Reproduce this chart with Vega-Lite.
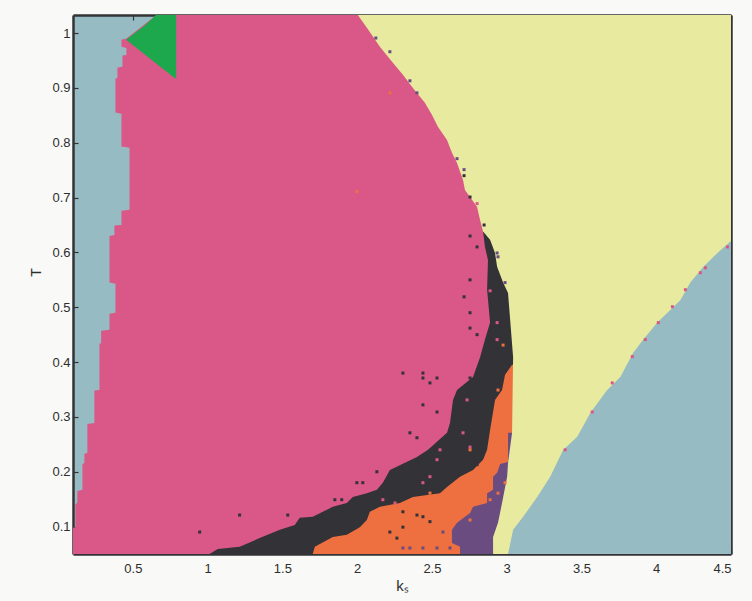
{
  "$schema": "https://vega.github.io/schema/vega-lite/v6.json",
  "width": 658,
  "height": 539,
  "autosize": {"type": "none"},
  "padding": {"left": 73, "top": 15, "right": 21, "bottom": 47},
  "background": "#f9f9f7",
  "config": {
    "view": {"fill": "#97bbc3", "stroke": null},
    "axis": {
      "zindex": 1,
      "domain": true,
      "domainColor": "#333336",
      "domainWidth": 2.5,
      "grid": false,
      "tickColor": "#333336",
      "tickWidth": 1.2,
      "tickSize": -5,
      "labelFont": "Liberation Sans",
      "labelFontSize": 13,
      "labelColor": "#2d2d2d",
      "titleFont": "Liberation Sans",
      "titleFontSize": 14,
      "titleFontWeight": "normal",
      "titleColor": "#2d2d2d"
    }
  },
  "datasets": {
    "pink": [
      {"T": 1.033, "k": 0.658, "k2": 4.5}, {"T": 0.99, "k": 0.457, "k2": 4.5},
      {"T": 0.988, "k": 0.424, "k2": 4.5}, {"T": 0.975, "k": 0.424, "k2": 4.5},
      {"T": 0.973, "k": 0.457, "k2": 4.5}, {"T": 0.96, "k": 0.457, "k2": 4.5},
      {"T": 0.959, "k": 0.431, "k2": 4.5}, {"T": 0.939, "k": 0.431, "k2": 4.5},
      {"T": 0.937, "k": 0.397, "k2": 4.5}, {"T": 0.918, "k": 0.397, "k2": 4.5},
      {"T": 0.917, "k": 0.384, "k2": 4.5}, {"T": 0.855, "k": 0.384, "k2": 4.5},
      {"T": 0.853, "k": 0.424, "k2": 4.5}, {"T": 0.793, "k": 0.424, "k2": 4.5},
      {"T": 0.791, "k": 0.478, "k2": 4.5}, {"T": 0.678, "k": 0.478, "k2": 4.5},
      {"T": 0.676, "k": 0.424, "k2": 4.5}, {"T": 0.65, "k": 0.424, "k2": 4.5},
      {"T": 0.649, "k": 0.377, "k2": 4.5}, {"T": 0.632, "k": 0.377, "k2": 4.5},
      {"T": 0.63, "k": 0.344, "k2": 4.5}, {"T": 0.545, "k": 0.344, "k2": 4.5},
      {"T": 0.543, "k": 0.384, "k2": 4.5}, {"T": 0.49, "k": 0.384, "k2": 4.5},
      {"T": 0.488, "k": 0.344, "k2": 4.5}, {"T": 0.459, "k": 0.344, "k2": 4.5},
      {"T": 0.457, "k": 0.288, "k2": 4.5}, {"T": 0.435, "k": 0.288, "k2": 4.5},
      {"T": 0.433, "k": 0.277, "k2": 4.5}, {"T": 0.349, "k": 0.277, "k2": 4.5},
      {"T": 0.348, "k": 0.243, "k2": 4.5}, {"T": 0.289, "k": 0.243, "k2": 4.5},
      {"T": 0.287, "k": 0.196, "k2": 4.5}, {"T": 0.234, "k": 0.196, "k2": 4.5},
      {"T": 0.233, "k": 0.176, "k2": 4.5}, {"T": 0.216, "k": 0.176, "k2": 4.5},
      {"T": 0.214, "k": 0.163, "k2": 4.5}, {"T": 0.167, "k": 0.163, "k2": 4.5},
      {"T": 0.165, "k": 0.129, "k2": 4.5}, {"T": 0.143, "k": 0.129, "k2": 4.5},
      {"T": 0.141, "k": 0.116, "k2": 4.5}, {"T": 0.099, "k": 0.116, "k2": 4.5},
      {"T": 0.098, "k": 0.1, "k2": 4.5}, {"T": 0.05, "k": 0.1, "k2": 4.5}
    ],
    "black": [
      {"T": 0.638, "k": 2.842, "k2": 3.1}, {"T": 0.61, "k": 2.855, "k2": 3.1},
      {"T": 0.586, "k": 2.875, "k2": 3.1}, {"T": 0.532, "k": 2.869, "k2": 3.1},
      {"T": 0.472, "k": 2.889, "k2": 3.1}, {"T": 0.441, "k": 2.855, "k2": 3.1},
      {"T": 0.409, "k": 2.822, "k2": 3.1}, {"T": 0.373, "k": 2.775, "k2": 3.1},
      {"T": 0.349, "k": 2.668, "k2": 3.1}, {"T": 0.331, "k": 2.641, "k2": 3.1},
      {"T": 0.289, "k": 2.621, "k2": 3.1}, {"T": 0.271, "k": 2.601, "k2": 3.1},
      {"T": 0.24, "k": 2.474, "k2": 3.1}, {"T": 0.227, "k": 2.4, "k2": 3.1},
      {"T": 0.203, "k": 2.219, "k2": 3.1}, {"T": 0.18, "k": 2.172, "k2": 3.1},
      {"T": 0.167, "k": 2.132, "k2": 3.1}, {"T": 0.161, "k": 2.065, "k2": 3.1},
      {"T": 0.154, "k": 1.971, "k2": 3.1}, {"T": 0.143, "k": 1.931, "k2": 3.1},
      {"T": 0.136, "k": 1.837, "k2": 3.1}, {"T": 0.118, "k": 1.703, "k2": 3.1},
      {"T": 0.116, "k": 1.616, "k2": 3.1}, {"T": 0.103, "k": 1.583, "k2": 3.1},
      {"T": 0.094, "k": 1.483, "k2": 3.1}, {"T": 0.079, "k": 1.348, "k2": 3.1},
      {"T": 0.063, "k": 1.215, "k2": 3.1}, {"T": 0.059, "k": 1.068, "k2": 3.1},
      {"T": 0.05, "k": 1.013, "k2": 3.1}
    ],
    "orange": [
      {"T": 0.395, "k": 3.036, "k2": 3.1}, {"T": 0.377, "k": 2.989, "k2": 3.1},
      {"T": 0.349, "k": 2.969, "k2": 3.1}, {"T": 0.331, "k": 2.922, "k2": 3.1},
      {"T": 0.276, "k": 2.889, "k2": 3.1}, {"T": 0.24, "k": 2.869, "k2": 3.1},
      {"T": 0.222, "k": 2.842, "k2": 3.1}, {"T": 0.203, "k": 2.775, "k2": 3.1},
      {"T": 0.191, "k": 2.688, "k2": 3.1}, {"T": 0.172, "k": 2.601, "k2": 3.1},
      {"T": 0.161, "k": 2.554, "k2": 3.1}, {"T": 0.154, "k": 2.373, "k2": 3.1},
      {"T": 0.143, "k": 2.286, "k2": 3.1}, {"T": 0.136, "k": 2.152, "k2": 3.1},
      {"T": 0.127, "k": 2.085, "k2": 3.1}, {"T": 0.112, "k": 2.065, "k2": 3.1},
      {"T": 0.099, "k": 2.018, "k2": 3.1}, {"T": 0.085, "k": 1.931, "k2": 3.1},
      {"T": 0.081, "k": 1.837, "k2": 3.1}, {"T": 0.063, "k": 1.717, "k2": 3.1},
      {"T": 0.05, "k": 1.703, "k2": 3.1}
    ],
    "purple": [
      {"T": 0.271, "k": 3.009, "k2": 3.1}, {"T": 0.218, "k": 3.009, "k2": 3.1},
      {"T": 0.214, "k": 2.956, "k2": 3.1}, {"T": 0.198, "k": 2.936, "k2": 3.1},
      {"T": 0.191, "k": 2.909, "k2": 3.1}, {"T": 0.167, "k": 2.909, "k2": 3.1},
      {"T": 0.161, "k": 2.869, "k2": 3.1}, {"T": 0.143, "k": 2.869, "k2": 3.1},
      {"T": 0.136, "k": 2.775, "k2": 3.1}, {"T": 0.125, "k": 2.755, "k2": 3.1},
      {"T": 0.107, "k": 2.668, "k2": 3.1}, {"T": 0.094, "k": 2.634, "k2": 3.1},
      {"T": 0.07, "k": 2.634, "k2": 3.1}, {"T": 0.063, "k": 2.688, "k2": 3.1},
      {"T": 0.05, "k": 2.688, "k2": 3.1}
    ],
    "yellow": [
      {"T": 1.033, "k": 2.005, "k2": 4.5}, {"T": 1.002, "k": 2.085, "k2": 4.5},
      {"T": 0.975, "k": 2.152, "k2": 4.5}, {"T": 0.946, "k": 2.239, "k2": 4.5},
      {"T": 0.924, "k": 2.306, "k2": 4.5}, {"T": 0.9, "k": 2.373, "k2": 4.5},
      {"T": 0.873, "k": 2.453, "k2": 4.5}, {"T": 0.851, "k": 2.5, "k2": 4.5},
      {"T": 0.829, "k": 2.54, "k2": 4.5}, {"T": 0.805, "k": 2.601, "k2": 4.5},
      {"T": 0.782, "k": 2.634, "k2": 4.5}, {"T": 0.763, "k": 2.668, "k2": 4.5},
      {"T": 0.732, "k": 2.708, "k2": 4.5}, {"T": 0.714, "k": 2.721, "k2": 4.5},
      {"T": 0.701, "k": 2.755, "k2": 4.5}, {"T": 0.683, "k": 2.802, "k2": 4.5},
      {"T": 0.659, "k": 2.822, "k2": 4.5}, {"T": 0.638, "k": 2.842, "k2": 4.5},
      {"T": 0.623, "k": 2.889, "k2": 4.5}, {"T": 0.599, "k": 2.922, "k2": 4.5},
      {"T": 0.574, "k": 2.936, "k2": 4.5}, {"T": 0.545, "k": 2.976, "k2": 4.5},
      {"T": 0.526, "k": 3.009, "k2": 4.5}, {"T": 0.409, "k": 3.043, "k2": 4.5},
      {"T": 0.271, "k": 3.036, "k2": 4.5}, {"T": 0.216, "k": 3.009, "k2": 4.5},
      {"T": 0.191, "k": 3.003, "k2": 4.5}, {"T": 0.143, "k": 2.969, "k2": 4.5},
      {"T": 0.107, "k": 2.942, "k2": 4.5}, {"T": 0.081, "k": 2.909, "k2": 4.5},
      {"T": 0.05, "k": 2.909, "k2": 4.5}
    ],
    "tealRight": [
      {"T": 0.621, "k": 4.5, "k2": 4.5}, {"T": 0.599, "k": 4.409, "k2": 4.5},
      {"T": 0.574, "k": 4.315, "k2": 4.5}, {"T": 0.545, "k": 4.228, "k2": 4.5},
      {"T": 0.513, "k": 4.161, "k2": 4.5}, {"T": 0.495, "k": 4.094, "k2": 4.5},
      {"T": 0.472, "k": 4.007, "k2": 4.5}, {"T": 0.441, "k": 3.914, "k2": 4.5},
      {"T": 0.417, "k": 3.846, "k2": 4.5}, {"T": 0.373, "k": 3.76, "k2": 4.5},
      {"T": 0.349, "k": 3.672, "k2": 4.5}, {"T": 0.307, "k": 3.559, "k2": 4.5},
      {"T": 0.264, "k": 3.472, "k2": 4.5}, {"T": 0.24, "k": 3.378, "k2": 4.5},
      {"T": 0.191, "k": 3.291, "k2": 4.5}, {"T": 0.154, "k": 3.204, "k2": 4.5},
      {"T": 0.118, "k": 3.11, "k2": 4.5}, {"T": 0.094, "k": 3.043, "k2": 4.5},
      {"T": 0.05, "k": 3.009, "k2": 4.5}
    ],
    "green": [
      {"T": 1.033, "k": 0.656, "k2": 0.79},
      {"T": 1.013, "k": 0.575, "k2": 0.79},
      {"T": 0.988, "k": 0.455, "k2": 0.79},
      {"T": 0.918, "k": 0.779, "k2": 0.79}
    ],
    "dots": [
      {"k": 2.125, "T": 0.991, "phase": "purple"}, {"k": 2.219, "T": 0.966, "phase": "purple"},
      {"k": 2.353, "T": 0.913, "phase": "purple"}, {"k": 2.4, "T": 0.891, "phase": "purple"},
      {"k": 2.668, "T": 0.771, "phase": "purple"}, {"k": 2.715, "T": 0.751, "phase": "purple"},
      {"k": 2.936, "T": 0.599, "phase": "purple"}, {"k": 2.942, "T": 0.592, "phase": "purple"},
      {"k": 2.989, "T": 0.545, "phase": "purple"}, {"k": 2.306, "T": 0.061, "phase": "purple"},
      {"k": 2.353, "T": 0.061, "phase": "purple"}, {"k": 2.44, "T": 0.061, "phase": "purple"},
      {"k": 2.534, "T": 0.061, "phase": "purple"}, {"k": 2.621, "T": 0.061, "phase": "purple"},
      {"k": 2.574, "T": 0.09, "phase": "purple"},
      {"k": 2.715, "T": 0.74, "phase": "black"}, {"k": 2.755, "T": 0.701, "phase": "black"},
      {"k": 2.849, "T": 0.65, "phase": "black"}, {"k": 2.755, "T": 0.63, "phase": "black"},
      {"k": 2.802, "T": 0.61, "phase": "black"}, {"k": 2.755, "T": 0.55, "phase": "black"},
      {"k": 2.715, "T": 0.519, "phase": "black"}, {"k": 2.755, "T": 0.49, "phase": "black"},
      {"k": 2.755, "T": 0.462, "phase": "black"}, {"k": 2.802, "T": 0.45, "phase": "black"},
      {"k": 2.306, "T": 0.38, "phase": "black"}, {"k": 2.44, "T": 0.38, "phase": "black"},
      {"k": 2.44, "T": 0.371, "phase": "black"}, {"k": 2.534, "T": 0.371, "phase": "black"},
      {"k": 2.487, "T": 0.362, "phase": "black"}, {"k": 2.755, "T": 0.371, "phase": "black"},
      {"k": 2.44, "T": 0.322, "phase": "black"}, {"k": 2.534, "T": 0.309, "phase": "black"},
      {"k": 2.353, "T": 0.271, "phase": "black"}, {"k": 2.4, "T": 0.262, "phase": "black"},
      {"k": 2.132, "T": 0.2, "phase": "black"}, {"k": 0.947, "T": 0.09, "phase": "black"},
      {"k": 1.214, "T": 0.121, "phase": "black"}, {"k": 1.536, "T": 0.121, "phase": "black"},
      {"k": 1.851, "T": 0.149, "phase": "black"}, {"k": 1.897, "T": 0.149, "phase": "black"},
      {"k": 1.998, "T": 0.18, "phase": "black"}, {"k": 2.038, "T": 0.18, "phase": "black"},
      {"k": 2.306, "T": 0.127, "phase": "black"}, {"k": 2.4, "T": 0.121, "phase": "black"},
      {"k": 2.44, "T": 0.118, "phase": "black"}, {"k": 2.487, "T": 0.109, "phase": "black"},
      {"k": 2.306, "T": 0.099, "phase": "black"}, {"k": 2.219, "T": 0.09, "phase": "black"},
      {"k": 2.266, "T": 0.079, "phase": "black"}, {"k": 2.755, "T": 0.213, "phase": "black"},
      {"k": 2.802, "T": 0.213, "phase": "black"},
      {"k": 2.802, "T": 0.689, "phase": "pink"}, {"k": 2.889, "T": 0.53, "phase": "pink"},
      {"k": 4.476, "T": 0.61, "phase": "pink"}, {"k": 4.329, "T": 0.572, "phase": "pink"},
      {"k": 4.295, "T": 0.563, "phase": "pink"}, {"k": 4.195, "T": 0.532, "phase": "pink"},
      {"k": 4.108, "T": 0.501, "phase": "pink"}, {"k": 4.014, "T": 0.472, "phase": "pink"},
      {"k": 3.927, "T": 0.441, "phase": "pink"}, {"k": 3.84, "T": 0.41, "phase": "pink"},
      {"k": 3.706, "T": 0.362, "phase": "pink"}, {"k": 3.572, "T": 0.309, "phase": "pink"},
      {"k": 3.391, "T": 0.24, "phase": "pink"}, {"k": 2.487, "T": 0.191, "phase": "pink"},
      {"k": 2.44, "T": 0.18, "phase": "pink"}, {"k": 2.534, "T": 0.222, "phase": "pink"},
      {"k": 2.755, "T": 0.245, "phase": "pink"}, {"k": 2.172, "T": 0.149, "phase": "pink"},
      {"k": 2.253, "T": 0.143, "phase": "pink"}, {"k": 2.936, "T": 0.472, "phase": "pink"},
      {"k": 2.936, "T": 0.441, "phase": "pink"}, {"k": 2.735, "T": 0.331, "phase": "pink"},
      {"k": 2.708, "T": 0.271, "phase": "pink"}, {"k": 2.554, "T": 0.24, "phase": "pink"},
      {"k": 2.219, "T": 0.891, "phase": "orange"}, {"k": 1.998, "T": 0.711, "phase": "orange"},
      {"k": 2.976, "T": 0.431, "phase": "orange"}, {"k": 2.942, "T": 0.349, "phase": "orange"},
      {"k": 2.755, "T": 0.24, "phase": "orange"}, {"k": 2.487, "T": 0.161, "phase": "orange"},
      {"k": 2.755, "T": 0.112, "phase": "orange"}, {"k": 2.889, "T": 0.149, "phase": "orange"},
      {"k": 2.942, "T": 0.161, "phase": "orange"}, {"k": 2.989, "T": 0.18, "phase": "orange"}
    ]
  },
  "layer": [
    {
      "data": {"name": "pink"},
      "mark": {"type": "area", "orient": "horizontal", "color": "#d95887", "clip": true},
      "encoding": {
        "y": {
          "field": "T", "type": "quantitative",
          "scale": {"domain": [0.05, 1.033], "nice": false, "zero": false},
          "axis": {"orient": "left", "title": "T", "format": "~g", "values": [0.1, 0.2, 0.3, 0.4, 0.5, 0.6, 0.7, 0.8, 0.9, 1], "labelPadding": 8, "titleX": -37, "titleY": 257, "titleAngle": -90, "titleBaseline": "middle", "titleAlign": "center"}
        },
        "x": {
          "field": "k", "type": "quantitative",
          "scale": {"domain": [0.1, 4.5], "nice": false, "zero": false},
          "axis": {"orient": "bottom", "title": "kₛ", "format": "~g", "values": [0.5, 1, 1.5, 2, 2.5, 3, 3.5, 4, 4.5], "labelPadding": 13, "titleY": 31, "titleBaseline": "middle", "titleFontSize": 15}
        },
        "x2": {"field": "k2"}
      }
    },
    {
      "data": {"name": "black"},
      "mark": {"type": "area", "orient": "horizontal", "color": "#333237", "clip": true},
      "encoding": {
        "y": {"field": "T", "type": "quantitative", "axis": null},
        "x": {"field": "k", "type": "quantitative", "axis": null},
        "x2": {"field": "k2"}
      }
    },
    {
      "data": {"name": "orange"},
      "mark": {"type": "area", "orient": "horizontal", "color": "#ee7040", "clip": true},
      "encoding": {
        "y": {"field": "T", "type": "quantitative", "axis": null},
        "x": {"field": "k", "type": "quantitative", "axis": null},
        "x2": {"field": "k2"}
      }
    },
    {
      "data": {"name": "purple"},
      "mark": {"type": "area", "orient": "horizontal", "color": "#6a4c80", "clip": true},
      "encoding": {
        "y": {"field": "T", "type": "quantitative", "axis": null},
        "x": {"field": "k", "type": "quantitative", "axis": null},
        "x2": {"field": "k2"}
      }
    },
    {
      "data": {"name": "yellow"},
      "mark": {"type": "area", "orient": "horizontal", "color": "#e8eaa0", "clip": true},
      "encoding": {
        "y": {"field": "T", "type": "quantitative", "axis": null},
        "x": {"field": "k", "type": "quantitative", "axis": null},
        "x2": {"field": "k2"}
      }
    },
    {
      "data": {"name": "tealRight"},
      "mark": {"type": "area", "orient": "horizontal", "color": "#97bbc3", "clip": true},
      "encoding": {
        "y": {"field": "T", "type": "quantitative", "axis": null},
        "x": {"field": "k", "type": "quantitative", "axis": null},
        "x2": {"field": "k2"}
      }
    },
    {
      "data": {"name": "dots"},
      "mark": {"type": "square", "size": 9, "opacity": 1, "clip": true},
      "encoding": {
        "y": {"field": "T", "type": "quantitative", "axis": null},
        "x": {"field": "k", "type": "quantitative", "axis": null},
        "color": {
          "field": "phase", "type": "nominal", "legend": null,
          "scale": {"domain": ["black", "orange", "purple", "pink"], "range": ["#333237", "#ee7040", "#6a4c80", "#d95887"]}
        }
      }
    },
    {
      "data": {"name": "green"},
      "mark": {"type": "area", "orient": "horizontal", "color": "#1ea84e", "clip": true},
      "encoding": {
        "y": {
          "field": "T", "type": "quantitative",
          "axis": {"orient": "right", "labels": false, "title": null, "values": [0.1, 0.2, 0.3, 0.4, 0.5, 0.6, 0.7, 0.8, 0.9, 1]}
        },
        "x": {
          "field": "k", "type": "quantitative",
          "axis": {"orient": "top", "labels": false, "title": null, "values": [0.5, 1, 1.5, 2, 2.5, 3, 3.5, 4, 4.5]}
        },
        "x2": {"field": "k2"}
      }
    }
  ],
  "resolve": {"axis": {"x": "independent", "y": "independent"}}
}
